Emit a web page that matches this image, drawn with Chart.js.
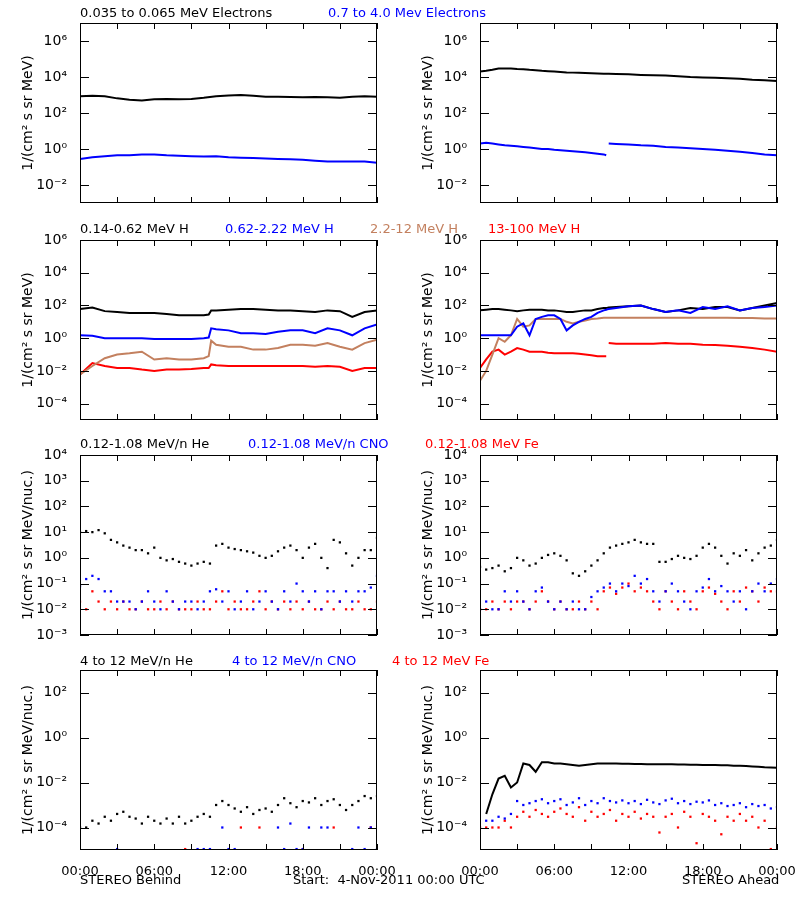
<!DOCTYPE html>
<html>
<head>
<meta charset="utf-8">
<script src="https://cdn.jsdelivr.net/npm/chart.js@4"></script>
<style>
  body { margin: 0; background: #fff; }
  #page { position: relative; width: 800px; height: 900px; background: #fff; font-family: "DejaVu Sans", sans-serif; font-size: 13px; }
  #page canvas { position: absolute; }
  .lbl { position: absolute; white-space: pre; line-height: 14px; }
</style>
</head>
<body>
<div id="page"></div>
<script>
// time axis (hours since 4-Nov-2011 00:00)
const HOURS = [0,1,2,3,4,5,6,7,8,9,10,11,12,13,14,15,16,17,18,19,20,21,22,23,24];
const HALF = [0,0.5,1,1.5,2,2.5,3,3.5,4,4.5,5,5.5,6,6.5,7,7.5,8,8.5,9,9.5,10,10.5,11,11.5,12,
  12.5,13,13.5,14,14.5,15,15.5,16,16.5,17,17.5,18,18.5,19,19.5,20,20.5,21,21.5,22,22.5,23,23.5,24];
const hours2L = [0,1,2,3,4,5,6,7,8,9,10,10.4,10.6,11,12,13,14,15,16,17,18,19,20,21,22,23,24];
const hoursR = [0,0.5,1,1.5,2,2.5,3,3.5,4,4.5,5,5.5,6,6.5,7,7.5,8,8.5,9,9.5,10,10.2,10.3,10.4,
  11,12,13,14,15,16,17,18,19,20,21,22,23,24];
const xTickHours = [0,3,6,9,12,15,18,21,24];
const xLabels = ['00:00','06:00','12:00','18:00','00:00'];

// row 1: electrons
const elecLowB = [850,900,850,650,550,500,580,600,580,600,700,850,950,1000,900,800,800,780,750,780,750,700,800,850,800];
const elecHighB = [0.28,0.35,0.4,0.45,0.45,0.5,0.5,0.45,0.42,0.4,0.38,0.4,0.35,0.33,0.32,0.3,0.28,0.27,0.25,0.22,0.2,0.2,0.2,0.2,0.17];
const elecLowA = [2e4,2.2e4,2.5e4,3e4,3e4,3e4,2.8e4,2.7e4,2.5e4,2.4e4,2.2e4,2.1e4,2e4,1.9e4,1.8e4,1.75e4,1.7e4,1.65e4,1.6e4,1.55e4,1.5e4,
  1.5e4,1.5e4,1.5e4, 1.45e4,1.4e4,1.3e4,1.25e4,1.2e4,1.1e4,1e4,9.5e3,9e3,8.5e3,8e3,7e3,6.5e3,6e3];
const elecHighA = [2,2.2,2,1.8,1.6,1.5,1.4,1.3,1.2,1.1,1,1,0.9,0.85,0.8,0.75,0.7,0.65,0.6,0.55,0.5,
  0.45,null,2, 1.9,1.8,1.6,1.5,1.3,1.2,1.1,1,0.9,0.8,0.7,0.6,0.5,0.45];

// row 2: protons
const hLowB = [60,75,45,40,35,35,35,30,25,25,25, 28,50, 50,55,60,60,55,50,50,45,40,50,45,20,40,50];
const hMidB = [1.5,1.4,1.0,1.0,1.0,1.0,0.9,0.9,0.9,0.9,1.0, 1.1,4, 3.5,3,2,2,1.8,2.5,3,3,2,4,3,1.5,4,7];
const hHighB = [0.006,0.02,0.06,0.1,0.12,0.15,0.05,0.06,0.05,0.05,0.06, 0.08,0.7, 0.4,0.3,0.3,0.2,0.2,0.25,0.4,0.4,0.35,0.5,0.3,0.2,0.5,0.8];
const hTopB = [0.006,0.03,0.02,0.015,0.015,0.012,0.01,0.012,0.012,0.013,0.015, 0.015,0.025, 0.022,0.02,0.02,0.02,0.02,0.02,0.02,0.02,0.018,0.02,0.018,0.01,0.015,0.015];
const hLowA = [50,55,60,60,55,50,45,50,55,55,55,50,50,45,40,40,45,50,50,60,70, 70,72,75, 80,90,100,60,40,50,70,60,80,80,50,70,100,140];
const hMidA = [1.5,1.5,1.5,1.5,1.5,1.5,5,8,1.5,15,20,25,25,15,3,6,10,15,20,35,50, 55,58,60, 70,90,100,60,40,50,35,80,60,90,50,70,80,100];
const hHighA = [0.0025,0.01,0.1,1,0.6,1.5,15,5,6,15,15,15,15,15,10,8,10,12,15,16,18, 18,18,18, 18,18,18,18,18,18,18,18,18,18,17,17,16,16];
const hTopA = [0.015,0.05,0.15,0.2,0.1,0.15,0.25,0.2,0.15,0.15,0.15,0.13,0.12,0.12,0.12,0.12,0.11,0.1,0.09,0.08,0.08,
  0.08,null,0.5, 0.45,0.45,0.45,0.45,0.5,0.45,0.45,0.4,0.38,0.35,0.3,0.25,0.2,0.15];

// row 3: 0.12-1.08 MeV/n ions
const heLowB = [10,11,10,12,9,5,4,3,2.5,2,2,1.5,2.5,1.0,0.8,0.9,0.7,0.6,0.5,0.6,0.7,0.6,3,3.5,2.5,
  2.2,2,1.8,1.6,1.2,1.0,1.2,1.8,2.5,3,2,1.0,2.5,3.5,1.0,0.4,5,4,1.5,0.5,1.0,2,2,6];
const cnoLowB = [0.08,0.15,0.2,0.15,0.05,0.05,0.02,0.02,0.02,0.01,0.02,0.05,0.02,0.01,0.05,0.02,0.01,0.02,0.02,0.01,0.02,0.05,0.06,0.02,0.05,
  0.01,0.02,0.05,0.01,0.02,0.05,0.02,0.01,0.05,0.02,0.1,0.05,0.02,0.05,0.01,0.05,0.05,0.02,0.05,0.02,0.05,0.05,0.07,0.2];
const feLowB = [0.02,0.01,0.05,0.02,0.01,0.02,0.01,0.02,0.01,0.01,0.02,0.01,0.01,0.02,0.01,0.02,0.01,0.01,0.01,0.02,0.01,0.01,0.02,0.05,0.01,
  0.02,0.01,0.01,0.02,0.05,0.01,0.02,0.01,0.02,0.01,0.02,0.01,0.02,0.01,0.01,0.02,0.01,0.02,0.01,0.01,0.02,0.01,0.01,0.02];
const heLowA = [0.45,0.35,0.4,0.5,0.3,0.4,1.0,0.8,0.5,0.6,1.0,1.3,1.5,1.2,0.8,0.25,0.2,0.3,0.5,0.8,1.5,2.5,3,3.5,4,
  5,4,3.5,3.5,0.7,0.7,0.9,1.2,1.0,0.9,1.2,2.5,3.5,2.5,1.2,0.6,1.5,1.2,2,0.8,1.5,2.5,3,5];
const cnoLowA = [0.01,0.02,0.01,0.01,0.05,0.02,0.05,0.02,0.01,0.05,0.07,0.02,0.01,0.02,0.01,0.02,0.01,0.01,0.03,0.05,0.07,0.1,0.05,0.1,0.08,
  0.2,0.1,0.15,0.05,0.02,0.05,0.1,0.05,0.02,0.01,0.05,0.07,0.15,0.05,0.08,0.05,0.02,0.05,0.01,0.05,0.1,0.05,0.1,0.15];
const feLowA = [0.01,0.01,0.02,0.01,0.02,0.01,0.02,0.02,0.01,0.02,0.05,0.02,0.01,0.02,0.01,0.01,0.02,0.01,0.02,0.01,0.05,0.07,0.04,0.07,0.1,
  0.05,0.07,0.05,0.02,0.01,0.05,0.02,0.01,0.05,0.02,0.01,0.05,0.07,0.04,0.02,0.01,0.05,0.02,0.07,0.05,0.02,0.07,0.05,0.05];

// row 4: 4-12 MeV/n ions
const heHighB = [1e-4,1e-4,2e-4,1.5e-4,3e-4,2e-4,4e-4,5e-4,3e-4,2.5e-4,1.5e-4,3e-4,2e-4,1.5e-4,2.5e-4,1.5e-4,3e-4,1.5e-4,2e-4,3e-4,4e-4,3e-4,1e-3,1.5e-3,1e-3,
  7e-4,5e-4,8e-4,4e-4,6e-4,7e-4,5e-4,1e-3,2e-3,1.2e-3,8e-4,1.5e-3,1.3e-3,2e-3,1e-3,1.5e-3,1.8e-3,1e-3,6e-4,1e-3,1.5e-3,2.5e-3,2e-3,2.5e-3];
const cnoHighBTimes = [3,9.5,10,10.5,11.5,12,12.5,16,16.5,17,17.5,18,18.5,19.5,20,22,22.5,23,23.5,24];
const cnoHighB = [1.1e-5,1.1e-5,1.1e-5,1.1e-5,1e-4,1.1e-5,1.1e-5,1e-4,1.1e-5,1.5e-4,1.1e-5,1.1e-5,1e-4,1e-4,1e-4,1.1e-5,1e-4,1.1e-5,1e-4,1.1e-5];
const feHighBTimes = [8.5,13,14.5,18,20.5,23.5];
const feHighB = [1.1e-5,1e-4,1e-4,1.1e-5,1e-4,1e-4];
const heHighA = [null,4e-4,3e-3,1.5e-2,2e-2,6e-3,1e-2,0.07,0.06,0.03,0.08,0.08,0.07,0.07,0.065,0.06,0.055,0.06,0.065,0.07,0.07,0.07,0.07,0.068,0.068,
  0.067,0.066,0.065,0.065,0.065,0.064,0.064,0.063,0.063,0.062,0.062,0.06,0.06,0.06,0.058,0.058,0.056,0.055,0.054,0.052,0.05,0.048,0.047,0.045];
const cnoHighA = [null,2e-4,2e-4,3e-4,2.5e-4,4e-4,1.5e-3,1e-3,1.2e-3,1.5e-3,1.8e-3,1.2e-3,1.5e-3,1.8e-3,1e-3,1.3e-3,2e-3,1e-3,1.5e-3,1.2e-3,2e-3,1.5e-3,1.3e-3,1.6e-3,1.2e-3,
  1.5e-3,1.1e-3,1.7e-3,1.3e-3,1.1e-3,1.6e-3,1.9e-3,1.2e-3,1.5e-3,1.1e-3,1.4e-3,1.3e-3,1.6e-3,1e-3,1.2e-3,9e-4,1e-3,1.2e-3,8e-4,1.1e-3,9e-4,1e-3,7e-4,8e-4];
const feHighA = [1e-4,1e-4,1e-4,1e-4,2e-4,1e-4,3e-4,5e-4,3e-4,6e-4,4e-4,3e-4,5e-4,7e-4,4e-4,3e-4,8e-4,2e-4,5e-4,3e-4,4e-4,6e-4,2e-4,4e-4,3e-4,
  5e-4,2.5e-4,4e-4,3e-4,6e-5,3e-4,4e-4,1e-4,5e-4,3e-4,2e-5,4e-4,3e-4,2e-4,5e-5,3e-4,2e-4,4e-4,2e-4,3e-4,1e-4,2e-4,1.1e-5,1e-4];

const yTicksE = [-2,0,2,4,6];
const yTicksH = [-4,-2,0,2,4,6];
const yTicksLow = [-3,-2,-1,0,1,2,3,4];
const yTicksHigh = [-4,-2,0,2];

const BLACK = '#000000', BLUE = '#0000ff', TAN = '#c3805f', RED = '#ff0000';
const page = document.getElementById('page');

function line(color, xs, ys) {
  return { data: xs.map((x, i) => ({ x: x, y: ys[i] })), borderColor: color, backgroundColor: color,
    borderWidth: 2, pointRadius: 0, spanGaps: false };
}
function dots(color, xs, ys) {
  return { data: xs.map((x, i) => ({ x: x, y: ys[i] })), showLine: false, pointStyle: 'rect',
    pointRadius: 1.6, backgroundColor: color, borderColor: color, borderWidth: 0 };
}
const SUP = { '-': '\u207B', '0': '\u2070', '1': '\u00B9', '2': '\u00B2', '3': '\u00B3', '4': '\u2074', '5': '\u2075', '6': '\u2076', '7': '\u2077', '8': '\u2078', '9': '\u2079' };
function pow10(v) {
  const e = String(Math.round(Math.log10(v)));
  return '10' + e.split('').map(c => SUP[c]).join('');
}

const frame = {
  id: 'frame',
  afterDraw(chart) {
    const { ctx, chartArea: a } = chart;
    const x = chart.scales.x, y = chart.scales.y;
    ctx.save();
    ctx.strokeStyle = '#000';
    ctx.lineWidth = 1;
    ctx.strokeRect(a.left + 0.5, a.top + 0.5, a.width - 1, a.height - 1);
    ctx.beginPath();
    y.ticks.forEach(t => {
      const p = Math.round(y.getPixelForValue(t.value)) + 0.5;
      ctx.moveTo(a.left, p); ctx.lineTo(a.left + 9, p);
      ctx.moveTo(a.right, p); ctx.lineTo(a.right - 9, p);
    });
    xTickHours.forEach(h => {
      const p = Math.round(x.getPixelForValue(h)) + 0.5;
      ctx.moveTo(p, a.bottom); ctx.lineTo(p, a.bottom - 6);
      ctx.moveTo(p, a.top); ctx.lineTo(p, a.top + 6);
    });
    ctx.stroke();
    ctx.restore();
  }
};

function panel(col, plotTop, yMin, yMax, yTicks, yTitle, showX, datasets) {
  const cv = document.createElement('canvas');
  const h = 10 + 180 + (showX ? 30 : 10);
  cv.width = 400; cv.height = h;
  cv.style.left = (col * 400) + 'px';
  cv.style.top = (plotTop - 10) + 'px';
  page.appendChild(cv);
  new Chart(cv, {
    type: 'line',
    data: { datasets: datasets },
    options: {
      responsive: false, animation: false, devicePixelRatio: 1,
      layout: { padding: { top: 10, right: 23, bottom: showX ? 0 : 10, left: 0 } },
      plugins: { legend: { display: false }, tooltip: { enabled: false } },
      scales: {
        x: {
          type: 'linear', min: 0, max: 24, display: showX,
          grid: { display: false }, border: { display: false },
          afterBuildTicks: s => { s.ticks = [0, 6, 12, 18, 24].map(v => ({ value: v })); },
          afterFit: s => { s.height = showX ? 30 : 0; s.paddingLeft = 0; s.paddingRight = 0; },
          ticks: { autoSkip: false, maxRotation: 0, padding: 6, color: '#000',
            font: { family: 'DejaVu Sans', size: 13 },
            callback: v => xLabels[Math.round(v / 6)] }
        },
        y: {
          type: 'logarithmic', min: yMin, max: yMax,
          grid: { display: false }, border: { display: false },
          afterBuildTicks: s => { s.ticks = yTicks.map(e => ({ value: Math.pow(10, e) })); },
          afterFit: s => { s.width = 80; s.paddingTop = 0; s.paddingBottom = 0; },
          ticks: { padding: 5, color: '#000', font: { family: 'DejaVu Sans', size: 14 }, callback: v => pow10(v) },
          title: { display: true, text: yTitle, color: '#000', padding: { top: 20, bottom: 0 },
            font: { family: 'DejaVu Sans', size: 14 } }
        }
      }
    },
    plugins: [frame]
  });
}

const T1 = '1/(cm\u00B2 s sr MeV)';
const T2 = '1/(cm\u00B2 s sr MeV/nuc.)';

panel(0, 23, 1e-3, 1e7, yTicksE, T1, false, [line(BLACK, HOURS, elecLowB), line(BLUE, HOURS, elecHighB)]);
panel(1, 23, 1e-3, 1e7, yTicksE, T1, false, [line(BLACK, hoursR, elecLowA), line(BLUE, hoursR, elecHighA)]);
panel(0, 240, 1e-5, 1e6, yTicksH, T1, false, [line(BLACK, hours2L, hLowB), line(BLUE, hours2L, hMidB), line(TAN, hours2L, hHighB), line(RED, hours2L, hTopB)]);
panel(1, 240, 1e-5, 1e6, yTicksH, T1, false, [line(BLUE, hoursR, hMidA), line(BLACK, hoursR, hLowA), line(TAN, hoursR, hHighA), line(RED, hoursR, hTopA)]);
panel(0, 455, 1e-3, 1e4, yTicksLow, T2, false, [dots(BLACK, HALF, heLowB), dots(BLUE, HALF, cnoLowB), dots(RED, HALF, feLowB)]);
panel(1, 455, 1e-3, 1e4, yTicksLow, T2, false, [dots(BLACK, HALF, heLowA), dots(BLUE, HALF, cnoLowA), dots(RED, HALF, feLowA)]);
panel(0, 670, 1e-5, 1e3, yTicksHigh, T2, true, [dots(BLACK, HALF, heHighB), dots(BLUE, cnoHighBTimes, cnoHighB), dots(RED, feHighBTimes, feHighB)]);
panel(1, 670, 1e-5, 1e3, yTicksHigh, T2, true, [line(BLACK, HALF, heHighA), dots(BLUE, HALF, cnoHighA), dots(RED, HALF, feHighA)]);

const titles = [
  ['0.035 to 0.065 MeV Electrons', 80, 6, BLACK], ['0.7 to 4.0 Mev Electrons', 328, 6, BLUE],
  ['0.14-0.62 MeV H', 80, 222, BLACK], ['0.62-2.22 MeV H', 225, 222, BLUE], ['2.2-12 MeV H', 370, 222, TAN], ['13-100 MeV H', 488, 222, RED],
  ['0.12-1.08 MeV/n He', 80, 437, BLACK], ['0.12-1.08 MeV/n CNO', 248, 437, BLUE], ['0.12-1.08 MeV Fe', 425, 437, RED],
  ['4 to 12 MeV/n He', 80, 654, BLACK], ['4 to 12 MeV/n CNO', 232, 654, BLUE], ['4 to 12 MeV Fe', 392, 654, RED],
  ['STEREO Behind', 80, 873, BLACK], ['Start:  4-Nov-2011 00:00 UTC', 293, 873, BLACK], ['STEREO Ahead', 682, 873, BLACK]
];
titles.forEach(([text, x, y, color]) => {
  const d = document.createElement('div');
  d.className = 'lbl';
  d.textContent = text;
  d.style.left = x + 'px';
  d.style.top = y + 'px';
  d.style.color = color;
  page.appendChild(d);
});
</script>
</body>
</html>
